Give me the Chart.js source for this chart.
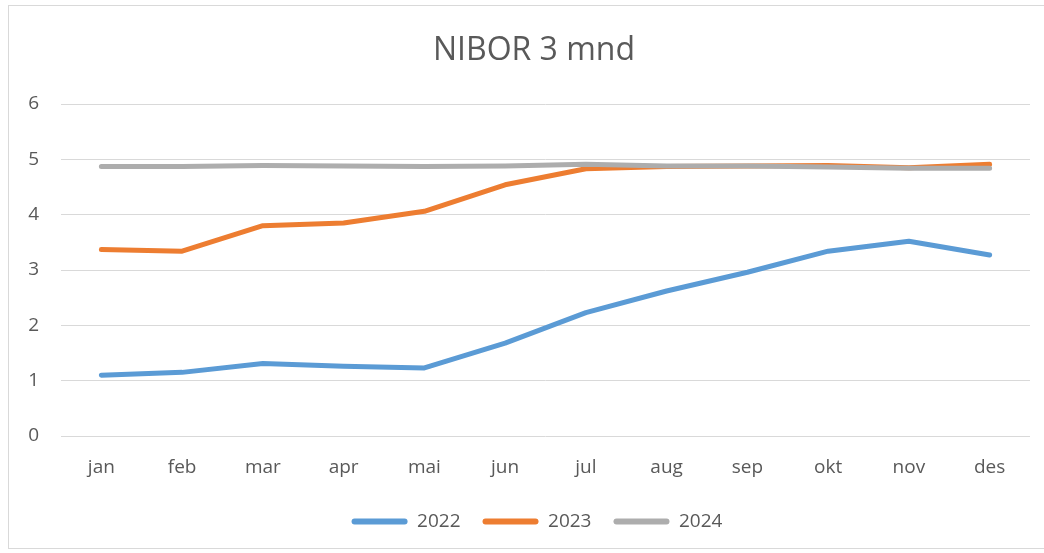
<!DOCTYPE html>
<html>
<head>
<meta charset="utf-8">
<script src="https://cdn.jsdelivr.net/npm/chart.js@4/dist/chart.umd.min.js"></script>
<style>
  html, body { margin: 0; padding: 0; background: #fff; }
  #wrap { position: absolute; left: 0; top: 0; width: 1044px; height: 553px; }
  #frame { position: absolute; left: 8px; top: 5px; width: 1040px; height: 544px; border: 1px solid #D9D9D9; box-sizing: border-box; }
  canvas { position: absolute; left: 0; top: 0; }
</style>
</head>
<body>
<div id="wrap">
  <div id="frame"></div>
  <canvas id="c" width="1044" height="553"></canvas>
</div>
<script>
const TITLE = 'NIBOR 3 mnd';
const MONTHS = ['jan','feb','mar','apr','mai','jun','jul','aug','sep','okt','nov','des'];
const SERIES_NAMES = ['2022','2023','2024'];
const Y2022 = [1.10, 1.15, 1.31, 1.26, 1.23, 1.68, 2.23, 2.62, 2.96, 3.34, 3.52, 3.27];
const Y2023 = [3.37, 3.34, 3.80, 3.85, 4.06, 4.54, 4.83, 4.87, 4.88, 4.89, 4.85, 4.91];
const Y2024 = [4.87, 4.87, 4.89, 4.88, 4.87, 4.88, 4.91, 4.88, 4.88, 4.86, 4.84, 4.84];
const Y_MIN = 0, Y_MAX = 6, Y_STEP = 1;

const COLORS = ['#5B9BD5', '#ED7D31', '#ADADAD'];
const TEXT = '#595959';
const GRID = '#D9D9D9';
const FONT = "'Open Sans', 'DejaVu Sans', sans-serif";

function ds(label, data, color, order) {
  return {
    label, data, order,
    borderColor: color, backgroundColor: color,
    borderWidth: 5, borderCapStyle: 'round', borderJoinStyle: 'round',
    pointRadius: 0, pointHoverRadius: 0, tension: 0, fill: false
  };
}

const shiftBlocks = {
  id: 'shiftBlocks',
  afterLayout(chart) {
    if (chart.legend) { chart.legend.left += 22; chart.legend.right += 22; }
    if (chart.titleBlock) { chart.titleBlock.left += 19; chart.titleBlock.right += 19; }
  }
};

new Chart(document.getElementById('c'), {
  type: 'line',
  data: {
    labels: MONTHS,
    datasets: [
      ds(SERIES_NAMES[0], Y2022, COLORS[0], 2),
      ds(SERIES_NAMES[1], Y2023, COLORS[1], 1),
      ds(SERIES_NAMES[2], Y2024, COLORS[2], 0)
    ]
  },
  plugins: [shiftBlocks],
  options: {
    responsive: false,
    animation: false,
    layout: { padding: { left: 0, right: 14, top: 0, bottom: 12 } },
    plugins: {
      tooltip: { enabled: false },
      title: {
        display: true, text: TITLE, color: TEXT,
        font: { family: FONT, size: 32, weight: 'normal' },
        padding: { top: 31.8, bottom: 33.8 }
      },
      legend: {
        position: 'bottom',
        labels: {
          color: TEXT,
          font: { family: FONT, size: 19 },
          boxWidth: 56, boxHeight: 6,
          useBorderRadius: true, borderRadius: 3,
          padding: 22,
          sort: (a, b) => a.datasetIndex - b.datasetIndex,
          generateLabels: (chart) => chart.data.datasets.map((d, i) => ({
            text: d.label, fillStyle: d.borderColor, strokeStyle: d.borderColor,
            lineWidth: 0, datasetIndex: i, hidden: false, fontColor: TEXT,
            borderRadius: 3
          }))
        }
      }
    },
    scales: {
      x: {
        offset: true,
        grid: { display: false, drawTicks: false, offset: true },
        border: { display: false },
        ticks: { color: TEXT, font: { family: FONT, size: 19 }, padding: 20, maxRotation: 0 },
        afterFit: (s) => { s.height = 54; }
      },
      y: {
        min: Y_MIN, max: Y_MAX,
        grid: { color: GRID, lineWidth: 1, drawTicks: false },
        border: { display: false },
        ticks: { stepSize: Y_STEP, color: TEXT, font: { family: FONT, size: 19 }, padding: 22 },
        afterFit: (s) => { s.width = 61; }
      }
    }
  }
});
</script>
</body>
</html>
